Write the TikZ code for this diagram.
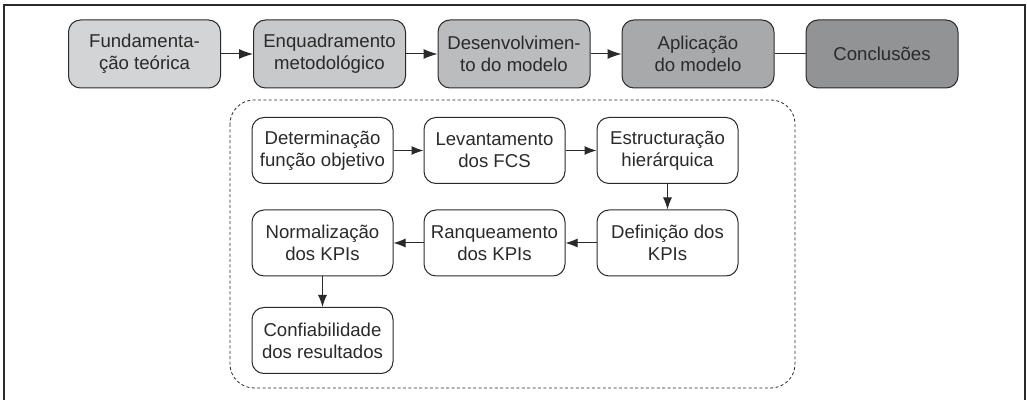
\documentclass[tikz,border=0pt]{standalone}
\usepackage{fontspec}
\setmainfont{Liberation Sans}
\usetikzlibrary{calc, positioning, arrows.meta}

\definecolor{lineclr}{HTML}{2A2A2A}
\definecolor{fillA}{HTML}{D3D4D6}
\definecolor{fillB}{HTML}{C8C9CB}
\definecolor{fillC}{HTML}{BBBCBE}
\definecolor{fillD}{HTML}{A8A9AB}
\definecolor{fillE}{HTML}{929395}

\begin{document}
\begin{tikzpicture}[
    x=0.5pt, y=-0.5pt,
    font=\fontsize{9.3}{11}\selectfont,
    text=lineclr,
    phase/.style={draw=lineclr, line width=0.5pt, rounded corners=6pt,
      minimum width=76pt, minimum height=34pt, align=center, inner sep=1pt},
    task/.style={draw=lineclr, line width=0.5pt, rounded corners=6pt,
      fill=white, minimum width=70.5pt, minimum height=33pt, align=center, inner sep=1pt},
    arr/.style={draw=lineclr, line width=0.5pt, -{Latex[length=6pt,width=4.5pt]}},
    bigarr/.style={draw=lineclr, line width=0.5pt, -{Latex[length=7pt,width=5pt]}}
  ]
  \useasboundingbox (0,0) rectangle (1027,400);

  % outer frame
  \draw[lineclr, line width=1pt] (4,405) -- (4,5) -- (1025,5) -- (1025,405);

  % dashed area
  \draw[lineclr, line width=0.4pt, dash pattern=on 1.5pt off 1.2pt, rounded corners=12pt]
    (230,100) rectangle (795,388);

  % phases
  \node[phase, fill=fillA] (fund) at (144.5,54) {Fundamenta-\\ção teórica};
  \node[phase, fill=fillB] (enq)  at (329.5,54) {Enquadramento\\metodológico};
  \node[phase, fill=fillC] (des)  at (514,54)   {Desenvolvimen-\\to do modelo};
  \node[phase, fill=fillD] (apl)  at (698,54)   {Aplicação\\do modelo};
  \node[phase, fill=fillE] (conc) at (882,54)   {Conclusões};

  \draw[bigarr] (fund) -- (enq);
  \draw[bigarr] (enq)  -- (des);
  \draw[bigarr] (des)  -- (apl);
  \draw[lineclr, line width=0.5pt] (apl) -- (conc);

  % model steps
  \node[task] (det)  at (322.5,150.5) {Determinação\\função objetivo};
  \node[task] (lev)  at (494.5,150.5) {Levantamento\\dos FCS};
  \node[task] (est)  at (667.5,150.5) {Estructuração\\hierárquica};
  \node[task] (defk) at (667.5,243)   {Definição dos\\KPIs};
  \node[task] (ran)  at (494.5,243)   {Ranqueamento\\dos KPIs};
  \node[task] (nor)  at (322.5,243)   {Normalização\\dos KPIs};
  \node[task] (conf) at (322.5,340.5) {Confiabilidade\\dos resultados};

  \draw[arr] (det)  -- (lev);
  \draw[arr] (lev)  -- (est);
  \draw[arr] (est)  -- (defk);
  \draw[arr] (defk) -- (ran);
  \draw[arr] (ran)  -- (nor);
  \draw[arr] (nor)  -- (conf);

\end{tikzpicture}
\end{document}
